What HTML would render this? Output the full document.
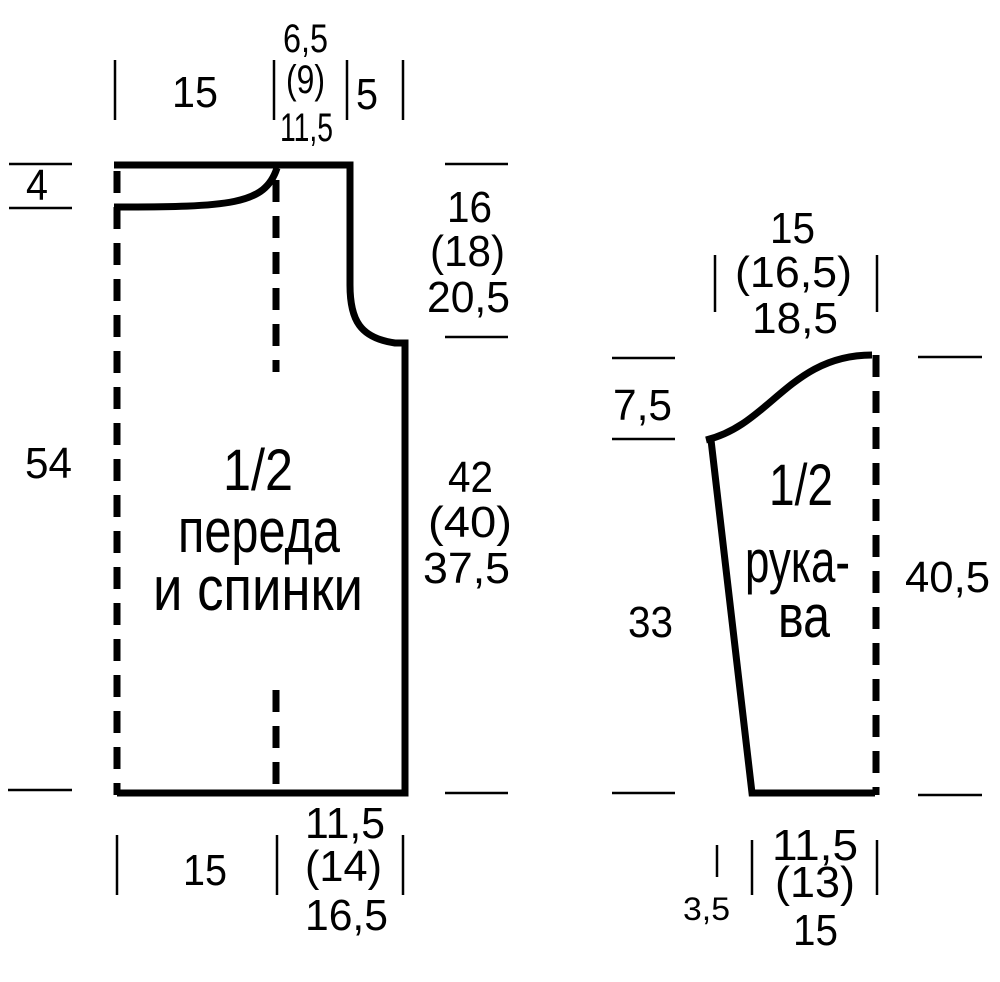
<!DOCTYPE html>
<html><head><meta charset="utf-8"><style>
html,body{margin:0;padding:0;background:#fff;}
svg text{font-family:"Liberation Sans",sans-serif;fill:#000;}
</style></head><body>
<svg width="1000" height="977" viewBox="0 0 1000 977" xmlns="http://www.w3.org/2000/svg">
<g stroke="#000" fill="none" stroke-width="7">
<path d="M114,165 H350 V285 C350,320 360,338 395,343 H405 V793 H117" stroke-linejoin="miter"/>
<path d="M114,207 C230,207 265,205 277,168"/>
<line x1="117" y1="165" x2="117" y2="795" stroke-dasharray="22,14" stroke-dashoffset="-6"/>
<line x1="276" y1="180" x2="276" y2="372" stroke-dasharray="22,14"/>
<line x1="276" y1="690" x2="276" y2="790" stroke-dasharray="22,14"/>
<path d="M706,440 C770,425 790,355 872,355"/>
<path d="M711,440 L752,793 H875"/>
<line x1="876" y1="355" x2="876" y2="795" stroke-dasharray="22,14"/>
</g>
<g stroke="#000" stroke-width="2.5">
<line x1="115" y1="60" x2="115" y2="120"/><line x1="274" y1="60" x2="274" y2="120"/>
<line x1="347" y1="60" x2="347" y2="120"/><line x1="403" y1="60" x2="403" y2="120"/>
<line x1="9" y1="164" x2="72" y2="164"/><line x1="9" y1="208" x2="72" y2="208"/>
<line x1="8" y1="790" x2="72" y2="790"/>
<line x1="445" y1="164" x2="508" y2="164"/><line x1="445" y1="337" x2="508" y2="337"/>
<line x1="445" y1="793" x2="508" y2="793"/>
<line x1="117" y1="835" x2="117" y2="895"/><line x1="277" y1="835" x2="277" y2="895"/>
<line x1="403" y1="835" x2="403" y2="895"/>
<line x1="612" y1="358" x2="675" y2="358"/><line x1="612" y1="439" x2="675" y2="439"/>
<line x1="612" y1="793" x2="675" y2="793"/>
<line x1="918" y1="357" x2="982" y2="357"/><line x1="918" y1="795" x2="982" y2="795"/>
<line x1="715" y1="255" x2="715" y2="312"/><line x1="877" y1="255" x2="877" y2="312"/>
<line x1="717" y1="845" x2="717" y2="877"/><line x1="752" y1="840" x2="752" y2="895"/>
<line x1="877" y1="840" x2="877" y2="895"/>
</g>
<g font-size="44" lengthAdjust="spacingAndGlyphs">
<text x="172" y="107" textLength="46" lengthAdjust="spacingAndGlyphs">15</text>
<text x="283" y="52" font-size="40" textLength="45" lengthAdjust="spacingAndGlyphs">6,5</text>
<text x="286" y="93" font-size="40" textLength="39" lengthAdjust="spacingAndGlyphs">(9)</text>
<text x="280" y="141" font-size="40" textLength="53" lengthAdjust="spacingAndGlyphs">11,5</text>
<text x="356" y="109" textLength="22" lengthAdjust="spacingAndGlyphs">5</text>
<text x="26" y="200" textLength="22" lengthAdjust="spacingAndGlyphs">4</text>
<text x="25" y="478" textLength="47" lengthAdjust="spacingAndGlyphs">54</text>
<text x="447" y="222" textLength="45" lengthAdjust="spacingAndGlyphs">16</text>
<text x="430" y="266" textLength="75" lengthAdjust="spacingAndGlyphs">(18)</text>
<text x="427" y="312" textLength="83" lengthAdjust="spacingAndGlyphs">20,5</text>
<text x="448" y="492" textLength="45" lengthAdjust="spacingAndGlyphs">42</text>
<text x="428" y="537" textLength="84" lengthAdjust="spacingAndGlyphs">(40)</text>
<text x="423" y="583" textLength="87" lengthAdjust="spacingAndGlyphs">37,5</text>
<text x="223" y="490" font-size="58" textLength="70" lengthAdjust="spacingAndGlyphs">1/2</text>
<text x="178" y="552" font-size="62" textLength="162" lengthAdjust="spacingAndGlyphs">переда</text>
<text x="153" y="610" font-size="62" textLength="210" lengthAdjust="spacingAndGlyphs">и спинки</text>
<text x="183" y="885" textLength="44" lengthAdjust="spacingAndGlyphs">15</text>
<text x="305" y="838" textLength="80" lengthAdjust="spacingAndGlyphs">11,5</text>
<text x="305" y="881" textLength="77" lengthAdjust="spacingAndGlyphs">(14)</text>
<text x="305" y="930" textLength="83" lengthAdjust="spacingAndGlyphs">16,5</text>
<text x="770" y="243" textLength="45" lengthAdjust="spacingAndGlyphs">15</text>
<text x="735" y="287" textLength="117" lengthAdjust="spacingAndGlyphs">(16,5)</text>
<text x="752" y="333" textLength="86" lengthAdjust="spacingAndGlyphs">18,5</text>
<text x="613" y="420" textLength="59" lengthAdjust="spacingAndGlyphs">7,5</text>
<text x="628" y="637" textLength="45" lengthAdjust="spacingAndGlyphs">33</text>
<text x="905" y="592" textLength="85" lengthAdjust="spacingAndGlyphs">40,5</text>
<text x="769" y="505" font-size="58" textLength="64" lengthAdjust="spacingAndGlyphs">1/2</text>
<text x="745" y="582" font-size="60" textLength="105" lengthAdjust="spacingAndGlyphs">рука-</text>
<text x="778" y="637" font-size="60" textLength="52" lengthAdjust="spacingAndGlyphs">ва</text>
<text x="683" y="920" font-size="32" textLength="47" lengthAdjust="spacingAndGlyphs">3,5</text>
<text x="772" y="860" textLength="86" lengthAdjust="spacingAndGlyphs">11,5</text>
<text x="775" y="897" textLength="80" lengthAdjust="spacingAndGlyphs">(13)</text>
<text x="793" y="945" textLength="45" lengthAdjust="spacingAndGlyphs">15</text>
</g>
</svg>
</body></html>
